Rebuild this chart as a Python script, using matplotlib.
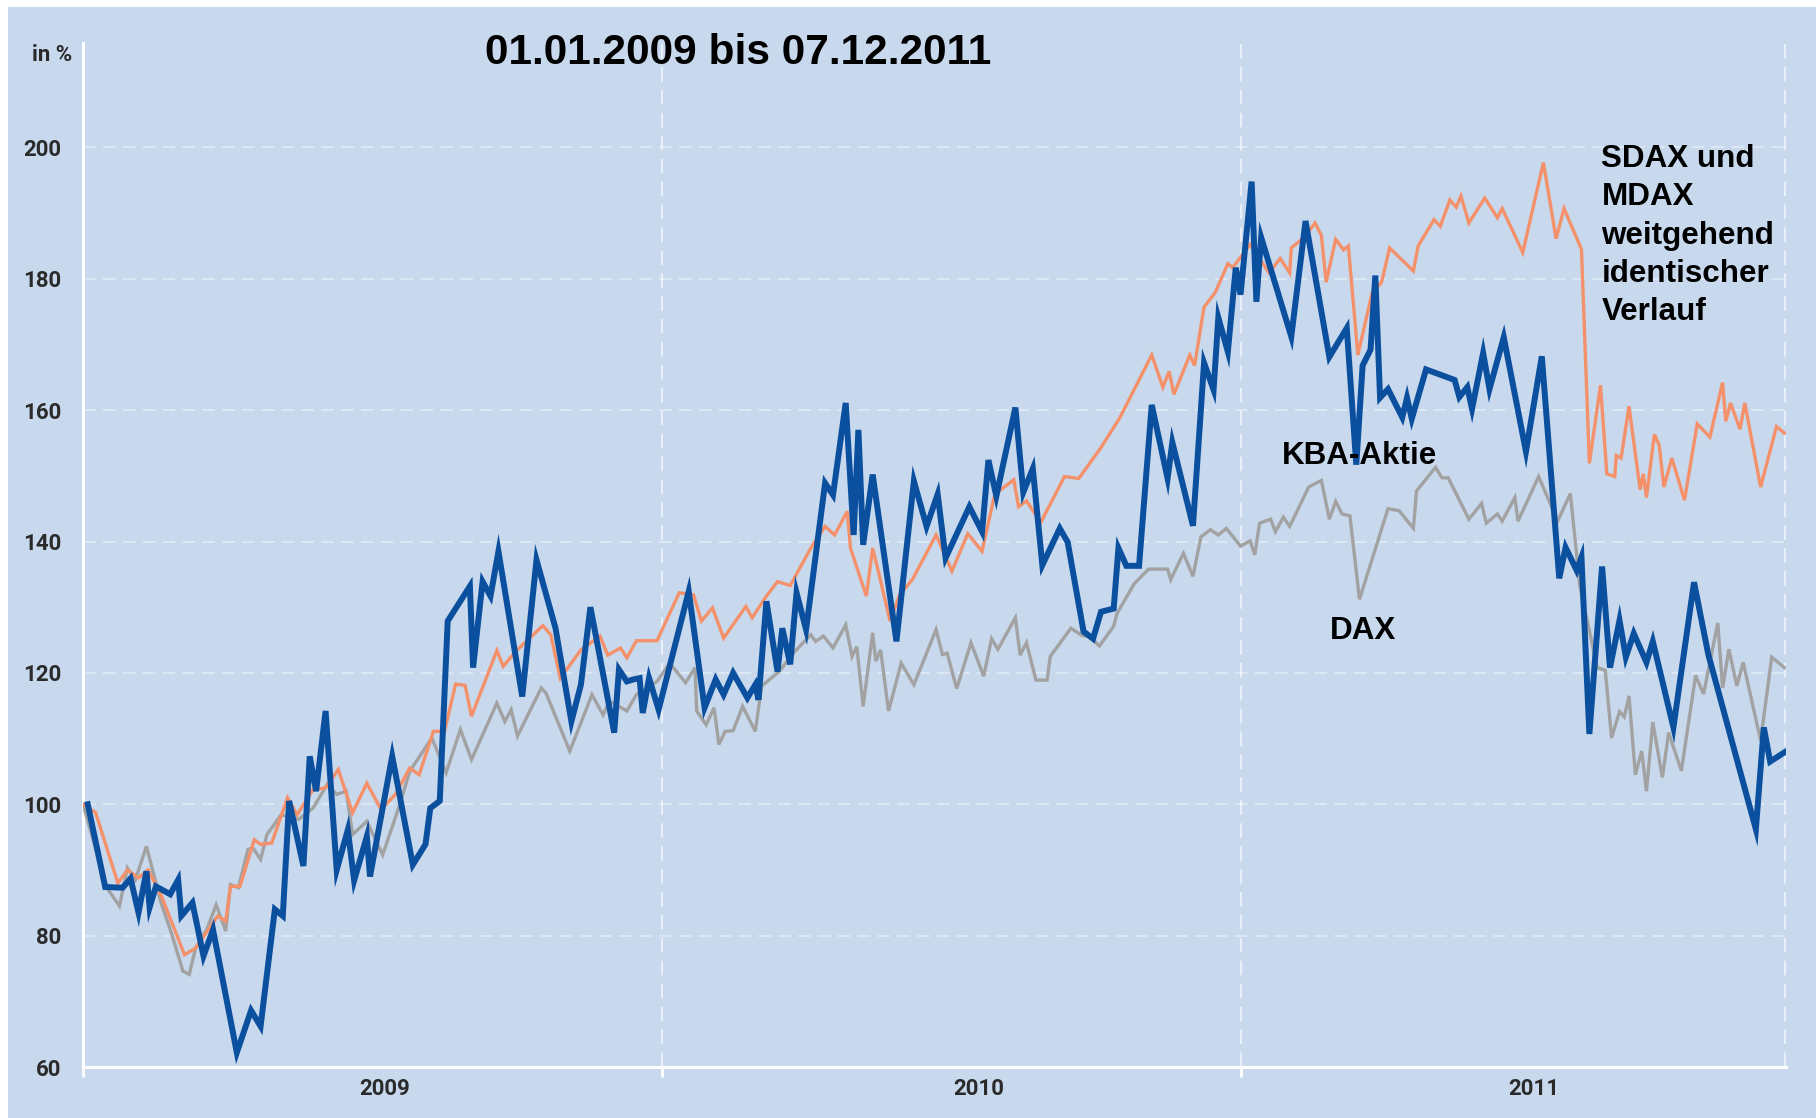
import matplotlib
matplotlib.use("Agg")
import matplotlib.pyplot as plt
from matplotlib import font_manager as fm
from matplotlib.patches import Rectangle

# ---------------- data (days since 01.01.2009, index in %) ----------------
kba_days = [3, 14, 25, 30, 35, 40, 42, 46, 55, 60, 62, 69, 76, 82, 97, 106, 112, 121, 126, 130,
            139, 143, 147, 153, 160, 167, 171, 179, 181, 195, 208, 216, 219, 225, 230, 244, 246,
            252, 257, 262, 277, 286, 298, 308, 314, 320, 335, 338, 343, 347, 351, 353, 357, 363,
            382, 392, 399, 404, 410, 419, 424, 426, 431, 438, 441, 446, 450, 456, 468, 473, 481,
            486, 489, 492, 498, 513, 524, 532, 539, 544, 559, 567, 571, 576, 588, 593, 599, 605,
            616, 621, 631, 637, 642, 650, 653, 658, 666, 674, 684, 687, 700, 707, 713, 716, 722,
            727, 730, 737, 740, 743, 762, 771, 786, 797, 803, 807, 812, 815, 818, 823, 832, 835,
            838, 847, 865, 868, 873, 876, 883, 887, 896, 910, 920, 931, 935, 942, 945, 950, 958,
            963, 969, 973, 978, 986, 990, 1003, 1016, 1025, 1055, 1060, 1064, 1073]
kba_vals = [100, 87.4, 87.3, 88.7, 83.5, 89.8, 84.3, 87.5, 86.3, 88.5, 83, 85, 76.9, 80.9, 62.2,
            68.6, 66.2, 84, 83, 100.5, 90.6, 107.3, 102, 114.2, 90, 96.1, 88.4, 95.1, 89, 107.3,
            90.8, 93.9, 99.4, 100.5, 127.9, 133.2, 120.8, 133.9, 131.7, 138.5, 116.4, 137.2,
            126.8, 112.6, 118.2, 130, 110.9, 120.5, 118.7, 119, 119.2, 113.9, 119.2, 114.4,
            132.4, 114.7, 119, 116.7, 120, 116.2, 118.2, 115.9, 130.9, 120.2, 126.8, 121.3,
            132.2, 126.6, 148.9, 147.1, 161.1, 141, 157, 139.5, 150.2, 124.8, 149.2, 142.3,
            147.2, 137.5, 145.3, 141.5, 152.4, 146.9, 160.4, 147.5, 151.1, 136.4, 142, 139.9,
            126.3, 125.2, 129.3, 129.8, 139, 136.3, 136.3, 160.8, 149.6, 155.1, 142.4, 167.2,
            163.1, 174.1, 168.9, 181.7, 177.6, 194.8, 176.5, 186.3, 171.2, 188.8, 168.1, 172.5,
            151.7, 166.8, 169.2, 180.5, 161.9, 163.2, 158.9, 161.9, 158.7, 166.2, 164.6, 162,
            163.5, 160.2, 168.7, 163.2, 171.1, 153.7, 168.2, 134.4, 139.1, 135.6, 137.6, 110.7,
            136.2, 120.8, 128, 122.4, 126, 121.6, 124.8, 111.7, 133.8, 122.8, 96.2, 111.7,
            106.5, 107.9]

sdax_days = [0, 8, 22, 28, 35, 41, 49, 64, 71, 85, 90, 93, 99, 108, 112, 119, 129, 135, 145, 153,
             161, 170, 179, 188, 197, 206, 212, 221, 228, 235, 241, 245, 261, 265, 273, 283, 290,
             295, 301, 314, 326, 331, 339, 343, 349, 362, 376, 385, 390, 397, 404, 418, 422, 431,
             438, 446, 459, 468, 474, 482, 484, 494, 498, 501, 509, 515, 523, 538, 548, 558, 567,
             575, 587, 590, 595, 604, 619, 628, 642, 654, 674, 681, 685, 688, 698, 701, 707, 714,
             722, 725, 736, 748, 755, 761, 762, 770, 777, 781, 784, 790, 795, 798, 804, 813, 819,
             824, 839, 842, 852, 856, 862, 866, 869, 874, 884, 892, 895, 908, 921, 929, 934, 945,
             950, 957, 961, 966, 967, 970, 975, 982, 984, 986, 991, 994, 997, 1002, 1010, 1018,
             1026, 1034, 1036, 1039, 1045, 1048, 1058, 1068, 1073]
sdax_vals = [100, 98.7, 88, 90, 88.8, 90, 86.3, 77.1, 78.1, 83, 82.2, 87.5, 87.5, 94.6, 93.9,
             94.1, 101, 98.4, 102.2, 102.5, 105.3, 98.7, 103.2, 99.2, 101.5, 105.5, 104.5, 111.1,
             111.1, 118.3, 118.1, 113.4, 123.4, 121, 123.3, 125.6, 127.2, 125.8, 119.2, 123.5,
             125.6, 122.7, 123.8, 122.3, 124.9, 124.9, 132.2, 131.9, 127.9, 129.9, 125.3, 130.1,
             128.4, 131.7, 133.9, 133.3, 139, 142.3, 141, 144.6, 139, 131.7, 139, 136, 127.9,
             131.9, 134.2, 141, 135.5, 141.2, 138.5, 147.2, 149.4, 145.3, 146.2, 142.9, 149.9,
             149.6, 154.3, 158.9, 168.4, 163.5, 165.9, 162.4, 168.4, 166.8, 175.7, 177.9, 182.3,
             181.7, 185.2, 180.9, 183.1, 180.9, 184.7, 186.3, 188.5, 186.6, 179.5, 186, 184.4,
             185, 168.4, 177.9, 179.5, 184.7, 181.2, 185, 189, 188, 192, 190.9, 192.6, 188.5,
             192.3, 189.3, 190.7, 184, 197.7, 186.1, 190.7, 184.5, 151.9, 163.8, 150.3, 149.9,
             153.1, 152.7, 160.6, 147.9, 150.3, 146.7, 156.3, 154.7, 148.3, 152.7, 146.3, 157.9,
             155.9, 164.2, 158.3, 161.1, 157.1, 161.1, 148.3, 157.5, 156.5]

dax_days = [0, 15, 23, 28, 33, 40, 49, 56, 63, 67, 71, 78, 84, 90, 93, 98, 104, 107, 112, 116,
            125, 136, 145, 154, 160, 166, 170, 179, 189, 199, 206, 220, 229, 238, 245, 261, 266,
            270, 274, 289, 292, 307, 321, 328, 332, 343, 349, 362, 370, 380, 386, 387, 393, 398,
            401, 405, 410, 416, 424, 428, 439, 449, 459, 462, 467, 473, 481, 485, 488, 492, 498,
            500, 503, 508, 516, 524, 538, 542, 545, 551, 560, 568, 573, 577, 588, 591, 595, 601,
            608, 610, 623, 630, 635, 641, 650, 652, 663, 672, 684, 686, 694, 700, 705, 711, 716,
            721, 730, 736, 739, 742, 749, 752, 757, 761, 773, 781, 786, 790, 794, 799, 805, 823,
            830, 839, 841, 853, 857, 861, 874, 882, 885, 892, 895, 903, 905, 918, 930, 938, 944,
            955, 960, 964, 969, 972, 975, 979, 983, 986, 990, 996, 1000, 1008, 1017, 1022, 1031,
            1034, 1038, 1043, 1047, 1058, 1065, 1073]
dax_vals = [100, 87.3, 84.5, 90.3, 88.5, 93.6, 85.2, 80.2, 74.6, 74.1, 78.1, 80.9, 84.7, 80.7,
            87.8, 87.3, 93.1, 93.4, 91.6, 95.4, 98.4, 97.7, 99.4, 103, 101.5, 102, 95.4, 97.4,
            92.3, 99.4, 105, 110.1, 104.8, 111.4, 106.8, 115.4, 112.6, 114.4, 110.4, 117.7,
            116.9, 108.1, 116.7, 113.6, 115.7, 114.2, 116.7, 118.7, 121.5, 118.5, 120.8, 114.2,
            112.1, 114.7, 109.1, 111.1, 111.2, 114.9, 111.1, 118, 120.2, 123.3, 125.8, 124.8,
            125.6, 123.8, 127.3, 122.5, 124, 114.9, 126.1, 121.8, 123.5, 114.2, 121.5, 118.2,
            126.6, 122.8, 123, 117.6, 124.6, 119.5, 125.2, 123.6, 128.4, 122.7, 124.6, 118.9,
            118.9, 122.5, 126.8, 125.7, 125.5, 124.1, 127.1, 129, 133.6, 135.8, 135.8, 134.2,
            138.2, 134.7, 140.7, 141.8, 141, 142, 139.3, 140.1, 138, 142.8, 143.4, 141.5, 143.7,
            142.3, 148.3, 149.3, 143.4, 146.1, 144.2, 143.9, 131.2, 145, 144.7, 142, 147.7,
            151.3, 149.7, 149.7, 143.4, 145.8, 142.8, 144.2, 143.1, 146.7, 143.1, 149.9, 143.1,
            147.3, 133.2, 120.8, 120.4, 110.1, 114.1, 113.3, 116.5, 104.5, 108.1, 102, 112.5,
            104.1, 110.9, 105.1, 119.6, 116.8, 127.6, 117.7, 123.6, 118, 121.6, 109.7, 122.4,
            120.8]

years = ["2009", "2010", "2011"]
year_label_days = [190, 565, 915]
year_bound_days = [0, 365, 730]
y_ticks = [60, 80, 100, 120, 140, 160, 180, 200]

title = "01.01.2009 bis 07.12.2011"
y_unit = "in %"
note_lines = ["SDAX und", "MDAX", "weitgehend", "identischer", "Verlauf"]

# ---------------- fonts ----------------
names = {f.name for f in fm.fontManager.ttflist}
narrow = "Liberation Sans Narrow" in names
title_family = "Liberation Sans Narrow" if narrow else "Liberation Sans"
title_size = 34 if narrow else 30.5
tick_family = "Roboto" if "Roboto" in names else "DejaVu Sans"

BG = "#c8d9ee"
BLUE = "#0b4f9f"
ORANGE = "#f4916b"
GRAY = "#a2a2a2"
TICKC = "#2a2a2a"

W, H = 1816, 1118
fig = plt.figure(figsize=(W / 100, H / 100), dpi=100)
fig.patch.set_facecolor("white")
fig.add_artist(Rectangle((8 / W, 0), 1, 1 - 7 / H, transform=fig.transFigure,
                         facecolor=BG, edgecolor="none", zorder=-10))

ax = fig.add_axes([83 / W, 51 / H, (1786 - 83) / W, (1067 - 43) / H])
ax.set_facecolor(BG)
ax.set_xlim(0, 1074)
ax.set_ylim(60, 215.9)

for s in ["top", "right"]:
    ax.spines[s].set_visible(False)
for s in ["left", "bottom"]:
    ax.spines[s].set_color("white")
    ax.spines[s].set_linewidth(2.2)
    ax.spines[s].set_zorder(2)

dash = (0, (7, 4))
for v in y_ticks[1:]:
    ax.axhline(v, color="white", lw=1.3, ls=dash, alpha=0.42, zorder=1)
for d in year_bound_days[1:] + [1073.3]:
    ax.axvline(d, color="white", lw=1.5, ls=dash, alpha=0.6, zorder=1)

ax.plot(dax_days, dax_vals, color=GRAY, lw=2.4, zorder=3, solid_joinstyle="miter")
ax.plot(sdax_days, sdax_vals, color=ORANGE, lw=2.4, zorder=4, solid_joinstyle="miter")
ax.plot(kba_days, kba_vals, color=BLUE, lw=4.3, zorder=5, solid_joinstyle="miter")

# ticks
ax.set_yticks(y_ticks)
ax.set_yticklabels([str(t) for t in y_ticks])
ax.tick_params(axis="y", length=0, pad=15.5, labelsize=16, labelcolor=TICKC)
ax.set_xticks(year_bound_days)
ax.set_xticklabels([])
ax.tick_params(axis="x", which="major", direction="out", length=7, width=2, color="white")
ax.set_xticks(year_label_days, minor=True)
ax.set_xticklabels(years, minor=True)
ax.tick_params(axis="x", which="minor", length=0, pad=8, labelsize=16, labelcolor=TICKC)
for lab in ax.get_yticklabels() + ax.get_xticklabels(minor=True):
    lab.set_fontfamily(tick_family)
    lab.set_fontweight("bold")

ax.annotate(y_unit, xy=(0, 214), xycoords=("axes fraction", "data"),
            xytext=(-8, 0), textcoords="offset points", ha="right", va="center",
            fontsize=16, color=TICKC, family=tick_family, fontweight="bold")

# title and annotations
fig.text(738.6 / W, 1 - 63.7 / H, title, ha="center", va="baseline",
         fontsize=title_size, fontweight="bold", family=title_family, color="black")

for i, line in enumerate(note_lines):
    ax.annotate(line, xy=(957.6, 197.0), xytext=(0, -i * 27.5), textcoords="offset points",
                ha="left", va="baseline", fontsize=22.6, fontweight="bold",
                family="Liberation Sans", color="black", zorder=6)
ax.text(805, 151.8, "KBA-Aktie", ha="center", va="baseline", fontsize=22.6,
        fontweight="bold", family="Liberation Sans", color="black", zorder=6)
ax.text(807.5, 125.2, "DAX", ha="center", va="baseline", fontsize=22.6,
        fontweight="bold", family="Liberation Sans", color="black", zorder=6)

fig.savefig("out.png", dpi=100, facecolor=fig.get_facecolor())
